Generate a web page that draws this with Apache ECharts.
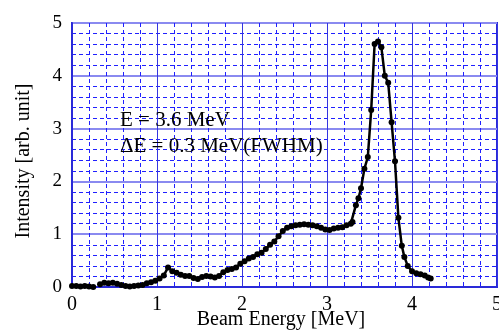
<!DOCTYPE html>
<html>
<head>
<meta charset="utf-8">
<script src="https://cdn.jsdelivr.net/npm/echarts@6/dist/echarts.min.js"></script>
<style>
  html, body { margin: 0; padding: 0; background: #fff; }
  #chart { width: 499px; height: 331px; }
</style>
</head>
<body>
<div id="chart"></div>
<script>
// beam energy spectrum
const energy = [
  0.00, 0.05, 0.10, 0.15, 0.20, 0.25, 0.29, 0.33, 0.38, 0.43, 0.48, 0.53, 0.58, 0.63, 0.68,
  0.73, 0.78, 0.83, 0.88, 0.93, 0.98, 1.03, 1.08, 1.13, 1.18, 1.23, 1.28, 1.33, 1.38, 1.43,
  1.48, 1.53, 1.58, 1.63, 1.68, 1.73, 1.78, 1.83, 1.88, 1.93, 1.98, 2.03, 2.08, 2.13, 2.18,
  2.23, 2.28, 2.33, 2.38, 2.43, 2.48, 2.53, 2.58, 2.63, 2.68, 2.73, 2.78, 2.83, 2.88, 2.93,
  2.98, 3.03, 3.08, 3.13, 3.18, 3.23, 3.28, 3.30, 3.34, 3.37, 3.40, 3.44, 3.48, 3.52, 3.56,
  3.60, 3.64, 3.68, 3.72, 3.76, 3.80, 3.84, 3.88, 3.91, 3.95, 4.00, 4.05, 4.10, 4.15, 4.19,
  4.22
];
const intensity = [
  0.02, 0.02, 0.01, 0.02, 0.01, 0.00, '-', 0.05, 0.08, 0.07, 0.08, 0.06, 0.04, 0.02, 0.01,
  0.02, 0.03, 0.04, 0.07, 0.09, 0.12, 0.16, 0.22, 0.37, 0.30, 0.27, 0.23, 0.21, 0.21, 0.17,
  0.15, 0.19, 0.21, 0.20, 0.18, 0.21, 0.28, 0.32, 0.34, 0.37, 0.44, 0.49, 0.54, 0.57, 0.62,
  0.65, 0.72, 0.80, 0.86, 0.96, 1.06, 1.12, 1.15, 1.17, 1.18, 1.19, 1.18, 1.17, 1.15, 1.12,
  1.09, 1.08, 1.11, 1.12, 1.13, 1.17, 1.20, 1.23, 1.55, 1.68, 1.87, 2.24, 2.46, 3.35, 4.60,
  4.65, 4.54, 4.00, 3.87, 3.12, 2.38, 1.31, 0.78, 0.57, 0.40, 0.30, 0.26, 0.24, 0.22, 0.18,
  0.16
];
const xTicks = [0, 1, 2, 3, 4, 5];
const yTicks = [0, 1, 2, 3, 4, 5];
const minorStep = 0.2;
const notes = ['E = 3.6 MeV', 'ΔE = 0.3 MeV(FWHM)'];

const serif = '"Liberation Serif", "DejaVu Serif", serif';
const chart = echarts.init(document.getElementById('chart'));

// hidden axes that only draw the dashed minor grid
const minorAxis = (lo, hi, pos) => ({
  type: 'value', min: lo, max: hi, interval: minorStep, position: pos,
  axisLine: { show: false }, axisTick: { show: false }, axisLabel: { show: false },
  splitLine: { show: true, lineStyle: { color: '#2020ff', width: 1, type: [4, 3] } },
});

chart.setOption({
  animation: false,
  grid: {
    left: 72, right: 2, top: 23, bottom: 44,
    outerBoundsMode: 'none',
    show: true, borderColor: '#2a2ad8', borderWidth: 2,
  },
  xAxis: [
    minorAxis(xTicks[0], xTicks[xTicks.length - 1], 'top'),
    {
      type: 'value', position: 'bottom',
      min: xTicks[0], max: xTicks[xTicks.length - 1], interval: 1,
      axisLine: { onZero: false, lineStyle: { color: '#2a2ad8', width: 2 } },
      axisTick: { show: false },
      axisLabel: { fontFamily: serif, fontSize: 20, color: '#000', margin: 8 },
      splitLine: { lineStyle: { color: '#3535e0', width: 1 } },
    },
  ],
  yAxis: [
    minorAxis(yTicks[0], yTicks[yTicks.length - 1], 'right'),
    {
      type: 'value', position: 'left',
      min: yTicks[0], max: yTicks[yTicks.length - 1], interval: 1,
      axisLine: { onZero: false, lineStyle: { color: '#2a2ad8', width: 2 } },
      axisTick: { show: false },
      axisLabel: { fontFamily: serif, fontSize: 19, color: '#000', margin: 10 },
      splitLine: { lineStyle: { color: '#8a8af0', width: 2 } },
    },
  ],
  graphic: [
    { type: 'text', x: 24, y: 161, rotation: Math.PI / 2,
      style: { text: 'Intensity [arb. unit]', font: '20px ' + serif, fill: '#000',
               align: 'center', verticalAlign: 'middle' } },
    { type: 'text', x: 281, y: 320,
      style: { text: 'Beam Energy [MeV]', font: '20px ' + serif, fill: '#000',
               align: 'center', verticalAlign: 'middle' } },
    { type: 'text', left: 120, top: 110, z: 100,
      style: { text: notes[0], font: '21px ' + serif, fill: '#000' } },
    { type: 'text', left: 120, top: 136, z: 100,
      style: { text: notes[1], font: '21px ' + serif, fill: '#000' } },
  ],
  series: [{
    type: 'line',
    xAxisIndex: 1,
    yAxisIndex: 1,
    data: energy.map((e, i) => [e, intensity[i]]),
    connectNulls: false,
    symbol: 'circle',
    symbolSize: 6,
    itemStyle: { color: '#000' },
    lineStyle: { color: '#000', width: 2.5 },
  }],
});
</script>
</body>
</html>
